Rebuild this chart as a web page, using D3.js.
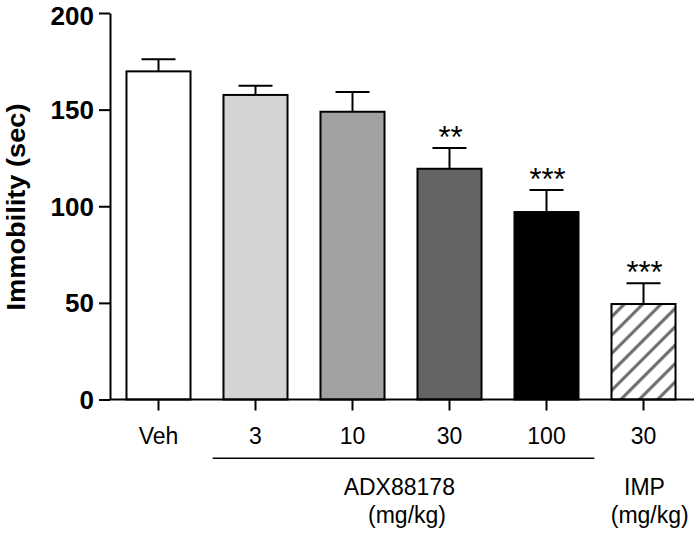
<!DOCTYPE html>
<html><head><meta charset="utf-8">
<script src="https://cdn.jsdelivr.net/npm/d3@7"></script>
<style>
html,body{margin:0;padding:0;background:#fff;}
svg{display:block;font-family:"Liberation Sans",Arial,Helvetica,sans-serif;}
</style></head>
<body><svg id="c" width="694" height="533"></svg>
<script>
const categories = ["Veh","3","10","30","100","30 IMP"];
const tickLabels = ["Veh","3","10","30","100","30"];
const means = [169.8,157.6,148.9,119.4,97.0,49.4];
const sems = [6.3,4.8,10.2,10.7,11.4,10.7];
const stars = ["","","","**","***","***"];
const fills = ["#ffffff","#d4d4d4","#a1a1a1","#646464","#000000","url(#hatch)"];
const yTicks = [0,50,100,150,200];

const svg = d3.select("#c");
const defs = svg.append("defs");
const pat = defs.append("pattern").attr("id","hatch").attr("patternUnits","userSpaceOnUse")
  .attr("width",13).attr("height",13).attr("patternTransform","rotate(45)");
pat.append("rect").attr("width",13).attr("height",13).attr("fill","#fff");
pat.append("line").attr("x1",6.5).attr("x2",6.5).attr("y1",0).attr("y2",13)
  .attr("stroke","#707070").attr("stroke-width",3.2);

const x = d3.scaleBand().domain(categories).range([110,692]).paddingInner(0.34).paddingOuter(0.17);
const y = d3.scaleLinear().domain([0,200]).range([399.5,13]);

// bars
svg.append("g").selectAll("rect").data(categories).join("rect")
  .attr("x",(d)=>x(d)).attr("width",x.bandwidth())
  .attr("y",(d,i)=>y(means[i])).attr("height",(d,i)=>y(0)-y(means[i]))
  .attr("fill",(d,i)=>fills[i]).attr("stroke","#000").attr("stroke-width",2);

// error bars
const eg = svg.append("g").attr("stroke","#000").attr("stroke-width",2);
categories.forEach((c,i)=>{
  const cx = x(c)+x.bandwidth()/2;
  eg.append("line").attr("x1",cx).attr("x2",cx).attr("y1",y(means[i])).attr("y2",y(means[i]+sems[i]));
  eg.append("line").attr("x1",cx-17).attr("x2",cx+17).attr("y1",y(means[i]+sems[i])).attr("y2",y(means[i]+sems[i]));
});

// stars
svg.append("g").selectAll("text").data(categories).join("text")
  .attr("x",(d)=>x(d)+x.bandwidth()/2+1)
  .attr("y",(d,i)=>y(means[i]+sems[i])-0.5)
  .attr("text-anchor","middle").attr("font-size",31)
  .text((d,i)=>stars[i]);

// y axis
const ya = svg.append("g").attr("transform","translate(110,0)")
  .call(d3.axisLeft(y).tickValues(yTicks).tickSize(11).tickSizeOuter(0).tickPadding(5));
ya.selectAll("path,line").attr("stroke","#000").attr("stroke-width",2);
ya.selectAll("text").attr("font-size",26).attr("font-weight","bold").attr("fill","#000")
  .attr("font-family","'Liberation Sans',Arial,sans-serif")
  .attr("dy",(d)=> d===200 ? "0.43em" : "0.34em");

// x axis
const xa = svg.append("g").attr("transform","translate(0,399.5)")
  .call(d3.axisBottom(x).tickSize(11).tickSizeOuter(0).tickFormat((d,i)=>tickLabels[i]));
xa.select("path").attr("d","M110,0H694");
xa.selectAll("path,line").attr("stroke","#000").attr("stroke-width",2);
xa.selectAll("text").attr("font-size",23).attr("fill","#000").attr("dy",null).attr("y",44.5)
  .attr("font-family","'Liberation Sans',Arial,sans-serif");

// y label
svg.append("text").attr("transform","translate(24.5,207) rotate(-90)")
  .attr("text-anchor","middle").attr("font-size",25).attr("font-weight","bold")
  .attr("textLength",207).attr("lengthAdjust","spacingAndGlyphs")
  .text("Immobility (sec)");

// group annotations
svg.append("line").attr("x1",212.7).attr("x2",594.3).attr("y1",458.3).attr("y2",458.3)
  .attr("stroke","#000").attr("stroke-width",1.6);
const g2 = svg.append("g").attr("font-size",23).attr("text-anchor","middle").attr("fill","#000");
g2.append("text").attr("x",399.3).attr("y",494.5).text("ADX88178");
g2.append("text").attr("x",407).attr("y",523).text("(mg/kg)");
g2.append("text").attr("x",644.5).attr("y",494.5).text("IMP");
g2.append("text").attr("x",649.7).attr("y",523).text("(mg/kg)");
</script></body></html>
